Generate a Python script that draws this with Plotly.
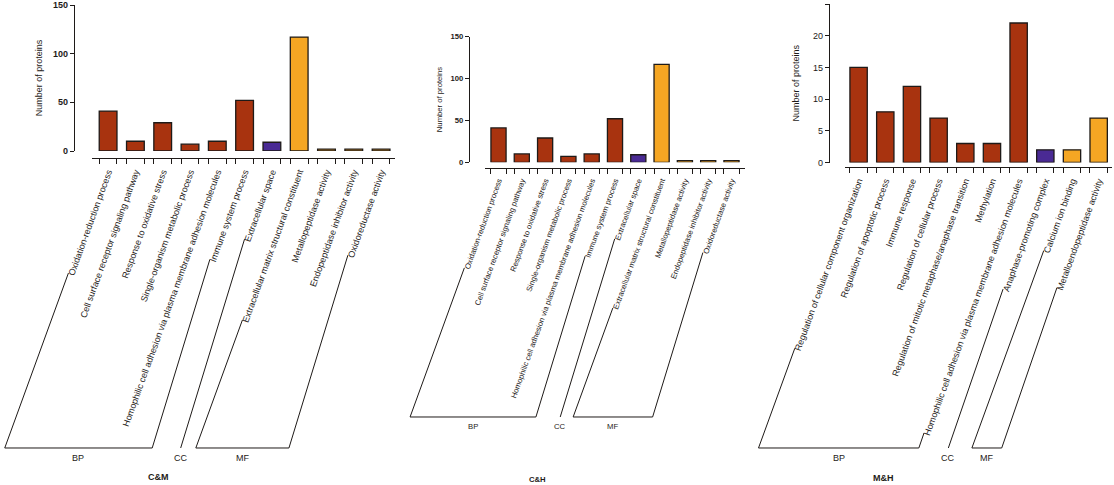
import math
import plotly.graph_objects as go

W, H = 1114, 485

# ---- data ----
cm_terms = [
    "Oxidation-reduction process",
    "Cell surface receptor signaling pathway",
    "Response to oxidative stress",
    "Single-organism metabolic process",
    "Homophilic cell adhesion via plasma membrane adhesion molecules",
    "Immune system process",
    "Extracellular space",
    "Extracellular matrix structural constituent",
    "Metallopeptidase activity",
    "Endopeptidase inhibitor activity",
    "Oxidoreductase activity",
]
cm_counts = [41, 10, 29, 7, 10, 52, 9, 117, 2, 2, 2]
cm_groups = ["BP", "BP", "BP", "BP", "BP", "BP", "CC", "MF", "MF", "MF", "MF"]

ch_terms = list(cm_terms)
ch_counts = [41, 10, 29, 7, 10, 52, 9, 117, 2, 2, 2]
ch_groups = list(cm_groups)

mh_terms = [
    "Regulation of cellular component organization",
    "Regulation of apoptotic process",
    "Immune response",
    "Regulation of cellular process",
    "Regulation of mitotic metaphase/anaphase transition",
    "Methylation",
    "Homophilic cell adhesion via plasma membrane adhesion molecules",
    "Anaphase-promoting complex",
    "Calcium ion binding",
    "Metalloendopeptidase activity",
]
mh_counts = [15, 8, 12, 7, 3, 3, 22, 2, 2, 7]
mh_groups = ["BP", "BP", "BP", "BP", "BP", "BP", "BP", "CC", "MF", "MF"]

ticks_150 = [0, 50, 100, 150]
ticks_25 = [0, 5, 10, 15, 20, 25]
group_order = ["BP", "CC", "MF"]

# ---- style ----
COLORS = {"BP": "#a8330f", "CC": "#4a2a94", "MF": "#f5a623"}
INK = "#1e1a18"
FONT = "Liberation Sans, Arial, Helvetica, sans-serif"
ANGLE = 70

# Helvetica advance widths (per 1000 em) to estimate label length
HELV = {' ': 278, '-': 333, '/': 278, '&': 667,
        'a': 556, 'b': 556, 'c': 500, 'd': 556, 'e': 556, 'f': 278, 'g': 556,
        'h': 556, 'i': 222, 'j': 222, 'k': 500, 'l': 222, 'm': 833, 'n': 556,
        'o': 556, 'p': 556, 'q': 556, 'r': 333, 's': 500, 't': 278, 'u': 556,
        'v': 500, 'w': 722, 'x': 500, 'y': 500, 'z': 500,
        'A': 667, 'C': 722, 'E': 667, 'H': 722, 'I': 278, 'M': 833, 'O': 778,
        'R': 722, 'S': 667}


def text_width(s, size):
    return sum(HELV.get(c, 556) for c in s) * size / 1000.0


def fx(px):
    return px / W


def fy(py):
    return 1 - py / H


panels = [
    dict(title="C&M", terms=cm_terms, counts=cm_counts, groups=cm_groups,
         yticks=ticks_150, ymax=150, y_x=74, y_zero=151, y_top=5,
         x_line=158, x_left=92, x_right=395, xr=[-0.59, 10.51],
         font=9, base=448, title_xy=(158, 477), ang2=73,
         ybold="bold", standoff=7),
    dict(title="C&H", terms=ch_terms, counts=ch_counts, groups=ch_groups,
         yticks=ticks_150, ymax=150, y_x=469, y_zero=162.3, y_top=36.7,
         x_line=168, x_left=485, x_right=745, xr=[-0.58, 10.58],
         font=7.7, base=417, title_xy=(537, 479), ang2=73,
         ybold="bold", standoff=5),
    dict(title="M&H", terms=mh_terms, counts=mh_counts, groups=mh_groups,
         yticks=ticks_25, ymax=25, y_x=829, y_zero=162.5, y_top=4,
         x_line=167, x_left=845, x_right=1112, xr=[-0.51, 9.5],
         font=9, base=448, title_xy=(883, 478), ang2=71,
         ybold="normal", standoff=10),
]

fig = go.Figure()
shapes = []
annotations = []

for k, p in enumerate(panels, start=1):
    suffix = "" if k == 1 else str(k)
    n = len(p["terms"])
    fig.add_trace(go.Bar(
        x=list(range(n)),
        y=p["counts"],
        width=0.65,
        marker=dict(color=[COLORS[g] for g in p["groups"]],
                    line=dict(color=INK, width=1.3)),
        xaxis="x" + suffix,
        yaxis="y" + suffix,
        showlegend=False,
        hovertemplate="%{text}: %{y}<extra></extra>",
        text=p["terms"],
        textposition="none",
    ))

    edges = []
    for i in range(n):
        edges += [i - 0.325, i + 0.325]

    fig.update_layout(**{
        "xaxis" + suffix: dict(
            domain=[fx(p["x_left"]), fx(p["x_right"])],
            anchor="free", position=fy(p["x_line"]),
            range=p["xr"], tickmode="array",
            tickvals=list(range(n)), ticktext=p["terms"],
            tickangle=-ANGLE, ticks="", ticklabelstandoff=4,
            tickfont=dict(family=FONT, size=p["font"], color=INK),
            showline=True, linecolor=INK, linewidth=1.3,
            showgrid=False, zeroline=False, automargin=False,
            minor=dict(tickmode="array", tickvals=edges, ticks="outside",
                       ticklen=5, tickwidth=1.2, tickcolor=INK, showgrid=False),
        ),
        "yaxis" + suffix: dict(
            domain=[fy(p["y_zero"]), fy(p["y_top"])],
            anchor="free", position=fx(p["y_x"]),
            range=[0, p["ymax"]], tickmode="array", tickvals=p["yticks"],
            ticks="outside", ticklen=4, tickwidth=1.2, tickcolor=INK,
            tickfont=dict(family=FONT, size=p["font"], color=INK, weight=p["ybold"]),
            showline=True, linecolor=INK, linewidth=1.3,
            showgrid=False, zeroline=False, automargin=False,
            title=dict(text="Number of proteins", standoff=p["standoff"],
                       font=dict(family=FONT, size=p["font"], color=INK)),
        ),
    })

    # label start points (text is anchored at its end under the tick)
    span = p["x_right"] - p["x_left"]
    a = math.radians(ANGLE)

    def label_start(i):
        xc = p["x_left"] + (i - p["xr"][0]) / (p["xr"][1] - p["xr"][0]) * span
        L = text_width(p["terms"][i], p["font"]) + 4
        y0 = p["x_line"] + 6
        return xc - L * math.cos(a), y0 + L * math.sin(a)

    def foot(pt, ang):
        return pt[0] - (p["base"] - pt[1]) / math.tan(math.radians(ang))

    for g in group_order:
        idx = [i for i, gg in enumerate(p["groups"]) if gg == g]
        if not idx:
            continue
        if len(idx) == 1:
            s = label_start(idx[0])
            xb = foot(s, p["ang2"])
            pts = [s, (xb, p["base"])]
            xlab = xb
        else:
            s0 = label_start(idx[0])
            s1 = label_start(idx[-1])
            b0 = foot(s0, ANGLE)
            b1 = foot(s1, p["ang2"])
            pts = [s0, (b0, p["base"]), (b1, p["base"]), s1]
            xlab = (b0 + b1) / 2
        path = "M " + " L ".join(f"{fx(x):.5f},{fy(y):.5f}" for x, y in pts)
        shapes.append(dict(type="path", path=path, xref="paper", yref="paper",
                           line=dict(color=INK, width=1)))
        annotations.append(dict(text=g, x=fx(xlab), y=fy(p["base"] + 3),
                                xref="paper", yref="paper", xanchor="center",
                                yanchor="top", showarrow=False,
                                font=dict(family=FONT, size=p["font"], color=INK)))

    annotations.append(dict(text="<b>" + p["title"].replace("&", "&amp;") + "</b>",
                            x=fx(p["title_xy"][0]), y=fy(p["title_xy"][1]),
                            xref="paper", yref="paper", xanchor="center",
                            yanchor="middle", showarrow=False,
                            font=dict(family=FONT, size=p["font"], color=INK)))

fig.update_layout(
    width=W, height=H,
    margin=dict(l=0, r=0, t=0, b=0),
    plot_bgcolor="white", paper_bgcolor="white",
    shapes=shapes, annotations=annotations,
    bargap=0.35, showlegend=False,
)

# the page body has a default 8px margin; drop it so the figure fills the window
fig.write_html("out.html", config={"displayModeBar": False},
               post_script="document.body.style.margin='0';document.body.style.overflow='hidden';")
